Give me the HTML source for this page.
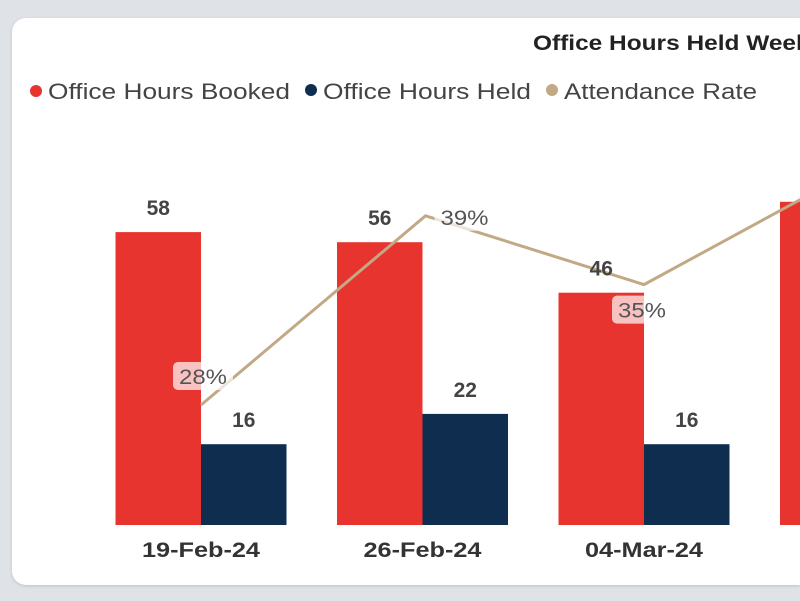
<!DOCTYPE html>
<html><head><meta charset="utf-8"><style>
html,body{margin:0;padding:0;width:800px;height:601px;overflow:hidden;background:#dfe3e7;font-family:"Liberation Sans",sans-serif}
#card{position:absolute;left:12px;top:18px;width:788px;height:567px;background:#fff;border-radius:14px 0 0 14px;box-shadow:0 1px 3px rgba(0,0,0,.15)}
</style></head><body>
<div id="card"></div>
<svg id="chart" width="800" height="601" style="position:absolute;left:0;top:0;overflow:hidden">
<text x="533" y="50" font-size="21" font-weight="bold" fill="#222" textLength="297" lengthAdjust="spacingAndGlyphs">Office Hours Held Weekly</text>
<g font-size="22" fill="#444">
<g><circle cx="36" cy="91" r="6" fill="#e8342f"/><text x="48" y="99" textLength="242" lengthAdjust="spacingAndGlyphs">Office Hours Booked</text></g>
<g><circle cx="311" cy="90" r="6" fill="#0f2d4e"/><text x="323" y="99" textLength="208" lengthAdjust="spacingAndGlyphs">Office Hours Held</text></g>
<g><circle cx="552" cy="90" r="6" fill="#c2a986"/><text x="564" y="99" textLength="193" lengthAdjust="spacingAndGlyphs">Attendance Rate</text></g>
</g>
<g id="bars"></g><g id="line"></g><g id="labels"></g>
</svg>
<script>
const categories=["19-Feb-24","26-Feb-24","04-Mar-24","11-Mar-24"];
const booked=[58,56,46,64];
const held=[16,22,16,20];
const rate=[28,39,35,42];
const rateLabels=["28%","39%","35%","42%"];
const NS="http://www.w3.org/2000/svg";
const baseY=525, pxPerUnit=5.05;
const yBar=v=>baseY-v*pxPerUnit;
const yRate=p=>405-(p-28)*17.2;
const groupX=i=>201+i*221.5;
const barW=85.5;
function mk(tag,attrs,parent){const e=document.createElementNS(NS,tag);for(const k in attrs)e.setAttribute(k,attrs[k]);parent.appendChild(e);return e;}
const bars=document.getElementById('bars'),line=document.getElementById('line'),labels=document.getElementById('labels');
categories.forEach((c,i)=>{
  const cx=groupX(i);
  const r=mk('rect',{x:cx-barW,y:yBar(booked[i]),width:barW,height:booked[i]*pxPerUnit,fill:'#e8342f'},bars);
  
  
  const h=mk('rect',{x:cx,y:yBar(held[i]),width:barW,height:held[i]*pxPerUnit,fill:'#0f2d4e'},bars);
  
  
  const t1=mk('text',{x:cx-barW/2,y:yBar(booked[i])-17,'text-anchor':'middle','font-size':21,'font-weight':'bold',fill:'#444'},labels);
  t1.textContent=booked[i];
  
  
  const t2=mk('text',{x:cx+barW/2,y:yBar(held[i])-17,'text-anchor':'middle','font-size':21,'font-weight':'bold',fill:'#444'},labels);
  t2.textContent=held[i];
  
  
  const xl=mk('text',{x:cx,y:557,'text-anchor':'middle','font-size':21,'font-weight':'bold',fill:'#333',textLength:118,lengthAdjust:'spacingAndGlyphs'},labels);
  xl.textContent=c;
  
  
});
const pts=rate.map((p,i)=>(groupX(i)+(i==1?3:0))+','+yRate(p)).join(' ');
const pl=mk('polyline',{points:pts,fill:'none',stroke:'#c2a986','stroke-width':3},line);


const offs=[[2,-28],[42,2],[-2,26],[0,-20]];
rate.forEach((p,i)=>{
  const x=groupX(i)+offs[i][0], y=yRate(p)+offs[i][1];
  const b=mk('rect',{x:x-30,y:y-15,width:60,height:28,rx:5,fill:'rgba(255,255,255,0.7)'},labels);
  
  
  const t=mk('text',{x:x,y:y+7,'text-anchor':'middle','font-size':21,fill:'#555',textLength:48,lengthAdjust:'spacingAndGlyphs'},labels);
  t.textContent=rateLabels[i];
  
  
});
</script>
</body></html>
